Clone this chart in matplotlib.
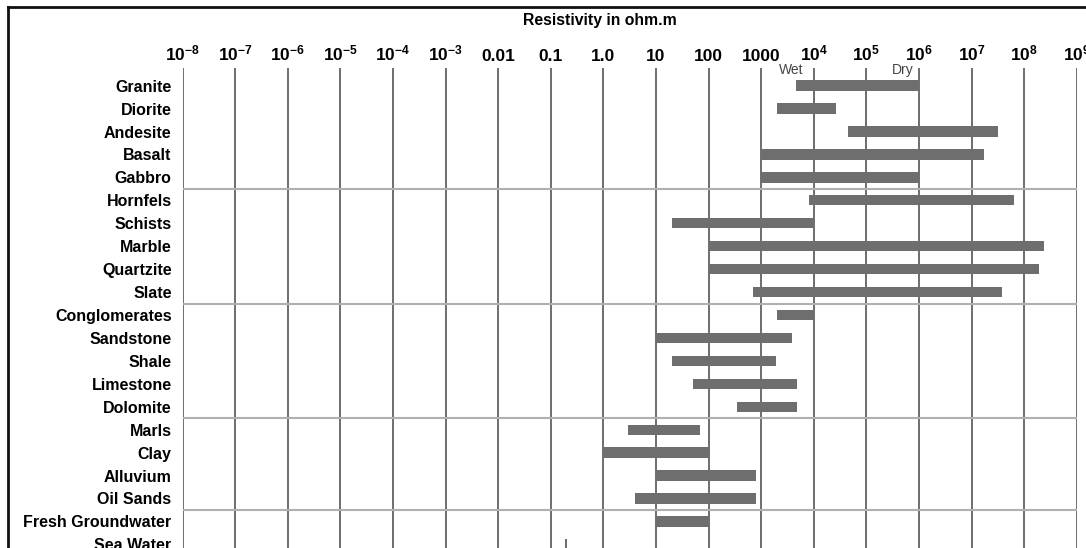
import numpy as np
import matplotlib
matplotlib.use('Agg')
import matplotlib.pyplot as plt
from matplotlib.lines import Line2D

plt.rcParams['font.family'] = ['Liberation Sans', 'DejaVu Sans']
plt.rcParams['mathtext.fontset'] = 'custom'
plt.rcParams['mathtext.rm'] = 'Liberation Sans'
plt.rcParams['mathtext.bf'] = 'Liberation Sans:bold'

# rock types, top to bottom
rocks = ['Granite', 'Diorite', 'Andesite', 'Basalt', 'Gabbro',
         'Hornfels', 'Schists', 'Marble', 'Quartzite', 'Slate',
         'Conglomerates', 'Sandstone', 'Shale', 'Limestone', 'Dolomite',
         'Marls', 'Clay', 'Alluvium', 'Oil Sands',
         'Fresh Groundwater', 'Sea Water']
# resistivity ranges in ohm.m
res_low = [4.5e3, 2e3, 4.5e4, 1e3, 1e3,
           8e3, 20, 100, 100, 700,
           2e3, 10, 20, 50, 350,
           3, 1, 10, 4,
           10, 0.19]
res_high = [1e6, 2.6e4, 3.2e7, 1.7e7, 1e6,
            6.5e7, 1e4, 2.4e8, 1.9e8, 3.8e7,
            1e4, 3.8e3, 1.9e3, 4.8e3, 4.8e3,
            70, 100, 800, 800,
            100, 0.2]
group_breaks = [4.5, 9.5, 14.5, 18.5]   # separators between rock groups

decades = np.arange(-8, 10)
plain = {-2: '0.01', -1: '0.1', 0: '1.0', 1: '10', 2: '100', 3: '1000'}
tick_labels = []
for d in decades:
    if d in plain:
        tick_labels.append(plain[d])
    else:
        tick_labels.append(r'$\mathbf{10^{%d}}$' % d)

W, H = 1086, 548
fig = plt.figure(figsize=(W/100, H/100), dpi=100)
x0, x1 = 182.7, 1076.7
ytop = 68
ax = fig.add_axes([x0/W, 0, (x1-x0)/W, 1-ytop/H])

y = np.arange(len(rocks))
lo = np.array(res_low)
hi = np.array(res_high)
ax.barh(y, hi-lo, left=lo, height=0.45, color='#6e6e6e', zorder=3)

ax.set_xscale('log')
ax.set_xlim(1e-8, 1e9)
ax.set_ylim(20.16, -0.77)
ax.set_xticks(10.0**decades)
ax.set_xticklabels(tick_labels)
ax.xaxis.set_minor_locator(matplotlib.ticker.NullLocator())
ax.xaxis.tick_top()
ax.tick_params(axis='x', length=0, pad=3, labelsize=12.5)
for t in ax.get_xticklabels():
    t.set_fontweight('bold')
ax.set_yticks(y)
ax.set_yticklabels(rocks, fontsize=11.5, fontweight='bold')
ax.tick_params(axis='y', length=0, pad=8)
ax.grid(axis='x', color='#555555', lw=1.2, zorder=1)
for b in group_breaks:
    ax.axhline(b, color='#b0b0b0', lw=1.5, zorder=2)
for s in ax.spines.values():
    s.set_visible(False)

ax.text(3.7e3, -0.68, 'Wet', fontsize=10, color='#444444', ha='center', va='center')
ax.text(5e5, -0.68, 'Dry', fontsize=10, color='#444444', ha='center', va='center')

fig.text(600/W, 1-20/H, 'Resistivity in ohm.m', fontsize=11.3, fontweight='bold',
         ha='center', va='center')

# black frame on the left and top
fig.add_artist(Line2D([8.3/W, 8.3/W], [0, 1-7.3/H], color='#111111', lw=2))
fig.add_artist(Line2D([8.3/W, 1], [1-7.3/H, 1-7.3/H], color='#111111', lw=2))

fig.savefig('out.png', dpi=100)
